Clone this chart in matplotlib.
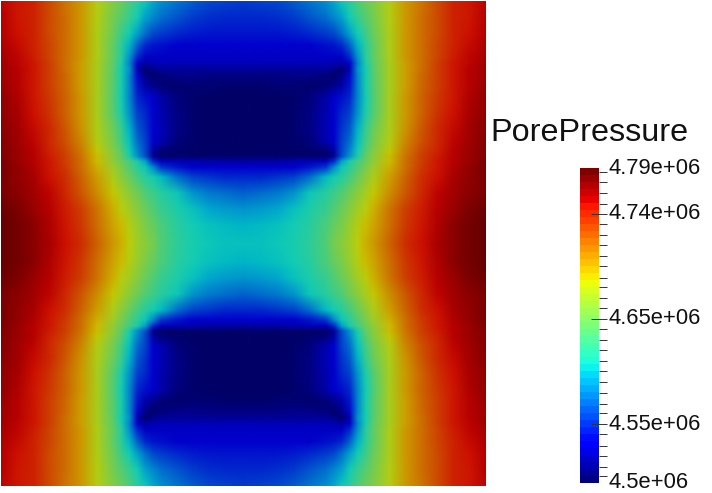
"""Pore pressure field with a jet colour bar."""

import matplotlib

matplotlib.use("Agg")
import matplotlib.pyplot as plt
import numpy as np
from matplotlib.cm import ScalarMappable
from matplotlib.colors import ListedColormap, Normalize
from matplotlib.image import NonUniformImage

plt.rcParams["font.family"] = ["Liberation Sans", "DejaVu Sans"]

P_MIN = 4.5
P_MAX = 4.79
SIDE = 485.0

# Sample positions of the upper-left quarter of the domain
quarter_x = [0, 16, 32, 48, 64, 80, 96, 112, 120, 128, 136, 144, 152, 160, 176, 192, 208, 224, 242.5]
quarter_y = [0, 16, 32, 44, 56, 62, 68, 74, 84, 96, 112, 128, 140, 150, 155, 160, 166, 176, 192, 208, 224, 242.5]

# In kPa above 4.5e6. The field is symmetric about both centre lines.
quarter_kpa = np.array([
    [262, 255, 250, 235, 218, 205, 180, 158, 148, 135, 118, 108, 97, 88, 78, 68, 62, 59, 57],
    [263, 256, 250, 235, 220, 205, 179, 152, 140, 125, 110, 95, 85, 75, 67, 58, 54, 52, 51],
    [265, 258, 250, 235, 220, 205, 178, 148, 128, 110, 95, 75, 62, 58, 50, 46, 45, 44, 44],
    [267, 259, 251, 236, 221, 205, 178, 145, 122, 100, 72, 52, 45, 41, 38, 37, 37, 36, 36],
    [269, 261, 253, 237, 222, 204, 177, 143, 118, 90, 50, 30, 30, 30, 30, 30, 30, 30, 30],
    [270, 262, 254, 238, 222, 203, 176, 142, 115, 85, 35, 22, 24, 25, 25, 25, 25, 25, 25],
    [271, 263, 254, 239, 222, 203, 176, 141, 110, 90, 25, 4, 12, 18, 18, 18, 18, 18, 18],
    [271, 263, 255, 240, 223, 203, 175, 140, 112, 85, 40, 12, 4, 8, 13, 12, 11, 10, 10],
    [273, 265, 255, 240, 223, 203, 175, 139, 112, 85, 45, 22, 12, 6, 4, 6, 5, 3, 3],
    [275, 266, 256, 242, 225, 204, 175, 138, 110, 85, 50, 42, 32, 22, 9, 3, 1, 0, 0],
    [276, 268, 258, 244, 226, 205, 175, 140, 115, 90, 60, 50, 35, 24, 10, 4, 1, 0, 0],
    [278, 270, 260, 247, 230, 208, 178, 148, 125, 100, 70, 55, 38, 25, 10, 4, 1, 0, 0],
    [279, 271, 261, 249, 233, 212, 181, 153, 130, 105, 75, 60, 38, 24, 9, 3, 1, 0, 0],
    [280, 273, 263, 251, 237, 216, 187, 160, 140, 110, 85, 62, 20, 6, 3, 1, 0, 0, 0],
    [280, 273, 264, 252, 238, 218, 191, 163, 145, 115, 90, 65, 15, 3, 3, 4, 4, 4, 4],
    [281, 274, 265, 254, 240, 220, 192, 165, 148, 132, 115, 95, 50, 28, 25, 23, 22, 21, 20],
    [281, 275, 266, 255, 242, 222, 196, 170, 155, 138, 122, 108, 85, 55, 44, 38, 35, 33, 32],
    [282, 276, 268, 258, 245, 226, 202, 177, 163, 148, 133, 118, 110, 102, 75, 60, 55, 52, 50],
    [283, 278, 271, 261, 248, 230, 210, 186, 175, 163, 150, 138, 127, 118, 107, 90, 80, 75, 72],
    [286, 282, 274, 264, 253, 238, 218, 195, 183, 173, 160, 148, 136, 126, 115, 106, 97, 92, 90],
    [288, 284, 277, 267, 256, 242, 222, 200, 192, 180, 168, 156, 146, 135, 120, 110, 106, 103, 100],
    [288, 285, 278, 268, 258, 245, 225, 205, 195, 185, 172, 162, 152, 138, 122, 113, 108, 106, 105],
])

bar_major_ticks = [4.554, 4.651, 4.748]
bar_minor_ticks = [
    4.506, 4.515, 4.525, 4.534, 4.545, 4.564, 4.573, 4.583, 4.593, 4.603,
    4.612, 4.622, 4.632, 4.642, 4.661, 4.670, 4.680, 4.689, 4.700, 4.709,
    4.719, 4.728, 4.738, 4.757, 4.767, 4.777, 4.786,
]
bar_label_values = [4.79, 4.748, 4.651, 4.554, 4.5]
bar_label_texts = ["4.79e+06", "4.74e+06", "4.65e+06", "4.55e+06", "4.5e+06"]

# Mirror the quarter into the full square
top_half = np.hstack((quarter_kpa, np.fliplr(quarter_kpa[:, :-1])))
field_kpa = np.vstack((top_half, np.flipud(top_half[:-1, :])))
pressure = P_MIN + field_kpa / 1000.0
x_full = np.concatenate((quarter_x, SIDE - np.array(quarter_x[-2::-1])))
y_full = np.concatenate((quarter_y, SIDE - np.array(quarter_y[-2::-1])))

# The surface is lit, so it is dimmer than the colour bar
surface_colors = plt.get_cmap("jet", 128)(np.arange(128))[:, :3] * 0.8
surface_cmap = ListedColormap(surface_colors)
bar_cmap = plt.get_cmap("jet", 45)
norm = Normalize(vmin=P_MIN, vmax=P_MAX)

W, H = 712, 493
fig = plt.figure(figsize=(W / 100, H / 100), dpi=100)

ax = fig.add_axes([1 / W, 1 - 486 / H, 484 / W, 484 / H])
image = NonUniformImage(ax, interpolation="bilinear", cmap=surface_cmap, norm=norm)
image.set_data(x_full, y_full, pressure)
ax.add_image(image)
ax.set_xlim(0, SIDE)
ax.set_ylim(SIDE, 0)
ax.axis("off")

cax = fig.add_axes([580 / W, 1 - 483 / H, 19 / W, 315 / H])
cbar = fig.colorbar(ScalarMappable(norm=norm, cmap=bar_cmap), cax=cax)
cbar.outline.set_visible(False)
cbar.set_ticks(bar_major_ticks)
cbar.set_ticks(bar_minor_ticks, minor=True)
cax.set_yticklabels([])
cax.tick_params(which="major", direction="inout", length=11.8, width=0.7, color="#333333")
cax.tick_params(which="minor", direction="out", length=5.8, width=0.7, color="#333333")

for value, text in zip(bar_label_values, bar_label_texts):
    cax.annotate(
        text,
        xy=(1, value),
        xycoords=cax.get_yaxis_transform(),
        xytext=(6.6, 0.0),
        textcoords="offset points",
        ha="left",
        va="center",
        fontsize=15.8,
        color="#111111",
    )

fig.text(490 / W, 1 - 133 / H, "PorePressure", fontsize=23.3, ha="left", va="center", color="#111111")

fig.savefig("out.png", dpi=100)
